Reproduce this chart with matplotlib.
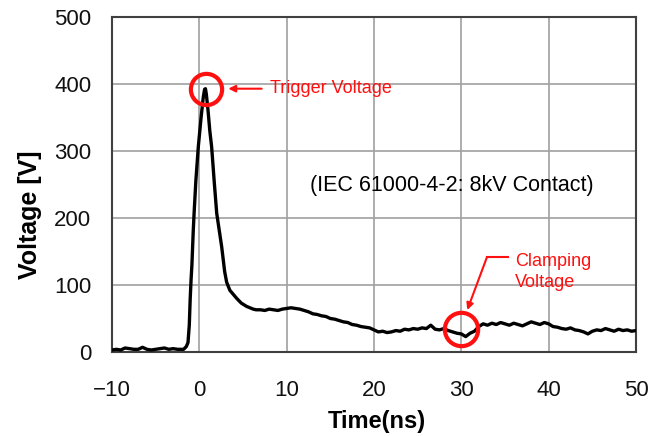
import matplotlib
matplotlib.use("Agg")
import matplotlib.pyplot as plt

plt.rcParams['font.family'] = ['Liberation Sans', 'DejaVu Sans']

# ---- data ----
t_base = [-10, -9.5, -9, -8.5, -8, -7.5, -7, -6.5, -6, -5.5, -5, -4.5, -4, -3.5, -3, -2.5, -2]
v_base = [3, 4, 3, 6, 5, 4, 4, 7, 4, 3, 4, 5, 6, 4, 5, 4, 4]

t_pulse = [-1.8, -1.5, -1.3, -1.15, -1.05, -0.95, -0.85, -0.7, -0.6, -0.4, -0.12, 0.2, 0.45, 0.6,
           0.7, 0.8, 1.0, 1.2, 1.41, 1.7, 1.99, 2.3, 2.56, 2.9, 3.13, 3.5, 4.08, 4.28, 4.8, 5.42, 6.17, 6.5]
v_pulse = [4, 8, 14, 40, 78, 107, 130, 180, 207, 255, 306, 350, 380, 392,
           393, 385, 360, 330, 306, 255, 207, 180, 157, 120, 104, 92, 83, 80, 73, 68, 64, 63]

t_tail = [7.0, 7.5, 8.0, 8.5, 9.0, 9.5, 10.0, 10.5, 11.0, 11.5, 12.0, 12.5, 13.0, 13.5, 14.0, 14.5,
          15.0, 15.5, 16.0, 16.5, 17.0, 17.5, 18.0, 18.5, 19.0, 19.5, 20.0, 20.5, 21.0, 21.5, 22.0,
          22.5, 23.0, 23.5, 24.0, 24.5, 25.0, 25.5, 26.0, 26.5, 27.0, 27.5, 28.0, 28.5, 29.0, 29.5,
          30.0, 30.5, 31.0, 31.5, 32.0, 32.5, 33.0, 33.5, 34.0, 34.5, 35.0, 35.5, 36.0, 36.5, 37.0,
          37.5, 38.0, 38.5, 39.0, 39.5, 40.0, 40.5, 41.0, 41.5, 42.0, 42.5, 43.0, 43.5, 44.0, 44.5,
          45.0, 45.5, 46.0, 46.5, 47.0, 47.5, 48.0, 48.5, 49.0, 49.5, 50.0]
v_tail = [63, 62, 64, 63, 62, 64, 65, 66, 65, 64, 62, 60, 57, 56, 54, 53,
          50, 49, 47, 45, 44, 41, 40, 38, 37, 36, 33, 30, 31, 29, 30,
          32, 31, 34, 33, 35, 34, 36, 35, 40, 34, 33, 35, 32, 30, 28,
          27, 23, 28, 31, 38, 42, 40, 43, 41, 44, 42, 40, 43, 41, 39,
          42, 45, 43, 41, 44, 42, 38, 37, 35, 34, 36, 33, 32, 30, 27,
          31, 33, 32, 35, 33, 31, 34, 32, 33, 31, 32]

x_ticks = [-10, 0, 10, 20, 30, 40, 50]
x_tick_labels = ['\u221210', '0', '10', '20', '30', '40', '50']
y_ticks = [0, 100, 200, 300, 400, 500]

trigger_point = (0.73, 393)
clamp_point = (30.0, 34)

time = t_base + t_pulse + t_tail
volt = v_base + v_pulse + v_tail

fig = plt.figure(figsize=(6.61, 4.36), dpi=100)
ax = fig.add_axes([112/661, 1-352/436, 524/661, 335/436])

ax.set_xlim(-10, 50)
ax.set_ylim(0, 500)
ax.set_xticks(x_ticks)
ax.set_xticklabels(x_tick_labels)
ax.set_yticks(y_ticks)
ax.grid(True, color='#a0a0a0', lw=1.2)
ax.set_axisbelow(True)
ax.tick_params(axis='both', length=0, labelsize=16, colors='#111111')
ax.tick_params(axis='y', pad=15)
ax.tick_params(axis='x', pad=20)
for s in ax.spines.values():
    s.set_color('#404040')
    s.set_linewidth(1.5)

ax.plot(time, volt, color='black', lw=2.4, solid_joinstyle='round', zorder=3)

red = '#ff1010'
ax.plot([trigger_point[0]], [trigger_point[1]], marker='o', ms=22.5, mfc='none', mec=red, mew=3, zorder=4)
ax.plot([clamp_point[0]], [clamp_point[1]], marker='o', ms=24, mfc='none', mec=red, mew=3, zorder=4)

ax.annotate('', xy=(3.32, 393), xytext=(7.14, 393),
            arrowprops=dict(arrowstyle='-|>', color=red, lw=1.5, mutation_scale=10, shrinkA=0, shrinkB=0))
ax.text(8.09, 393, 'Trigger Voltage', color=red, fontsize=13, va='center', ha='left')

ax.plot([35.35, 32.94], [141.8, 141.8], color=red, lw=1.5)
ax.annotate('', xy=(30.68, 62.7), xytext=(32.94, 141.8),
            arrowprops=dict(arrowstyle='-|>', color=red, lw=1.5, mutation_scale=10, shrinkA=0, shrinkB=0))
ax.text(36.15, 120, 'Clamping\nVoltage', color=red, fontsize=13, va='center', ha='left', linespacing=1.3)

ax.text(12.67, 249, '(IEC 61000-4-2: 8kV Contact)', color='black', fontsize=15.5, va='center', ha='left')

ax.set_xlabel('Time(ns)', fontsize=17, fontweight='bold')
ax.xaxis.set_label_coords(0.506, -0.172)
ax.set_ylabel('Voltage [V]', fontsize=18, fontweight='bold')
ax.yaxis.set_label_coords(-0.134, 0.409)

fig.savefig('out.png', dpi=100)
